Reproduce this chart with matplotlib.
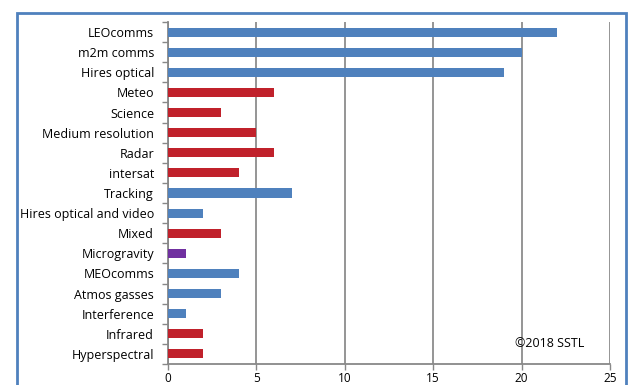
import numpy as np
import matplotlib.pyplot as plt
from matplotlib.patches import Rectangle

categories = ["LEOcomms", "m2m comms", "Hires optical", "Meteo", "Science",
              "Medium resolution", "Radar", "intersat", "Tracking",
              "Hires optical and video", "Mixed", "Microgravity", "MEOcomms",
              "Atmos gasses", "Interference", "Infrared", "Hyperspectral"]
values = [22, 20, 19, 6, 3, 5, 6, 4, 7, 2, 3, 1, 4, 3, 1, 2, 2]
groups = ["b", "b", "b", "r", "r", "r", "r", "r", "b",
          "b", "r", "p", "b", "b", "b", "r", "r"]
xticks = [0, 5, 10, 15, 20, 25]

palette = {"b": "#4F81BD", "r": "#C0212B", "p": "#7030A0"}

plt.rcParams['font.family'] = ['Open Sans', 'DejaVu Sans']

fig = plt.figure(figsize=(6.29, 3.85), dpi=100)
ax = fig.add_axes([168 / 629, 1 - 364 / 385, (610 - 168) / 629, (364 - 22) / 385])

y = np.arange(len(categories))
ax.barh(y, values, height=0.45, color=[palette[g] for g in groups], zorder=3)
ax.set_ylim(len(categories) - 0.5, -0.5)
ax.set_xlim(0, 25)
ax.set_xticks(xticks)
ax.set_yticks(y)
ax.set_yticklabels(categories, fontsize=9)
ax.tick_params(axis='y', length=0, pad=10)
ax.set_yticks(np.arange(-0.5, len(categories)), minor=True)
ax.tick_params(axis='y', which='minor', length=4, color='#888888', width=1)
ax.tick_params(axis='x', length=4, color='#888888', width=1, labelsize=8.5, pad=1.5)
ax.grid(axis='x', color='#8c8c8c', linewidth=1.3, zorder=0)
for s in ['top', 'right']:
    ax.spines[s].set_visible(False)
for s in ['left', 'bottom']:
    ax.spines[s].set_color('#888888')
    ax.spines[s].set_linewidth(1.3)

ax.text(0.943, 0.06, "\u00a92018 SSTL", transform=ax.transAxes, ha='right',
        va='center', fontsize=9)

fig.patches.append(Rectangle((17 / 629, -0.05), (626 - 17) / 629, 1.05 - 13 / 385,
                             transform=fig.transFigure, fill=False,
                             edgecolor='#4F81BD', linewidth=2, clip_on=False))

fig.savefig("out.png", dpi=100)
